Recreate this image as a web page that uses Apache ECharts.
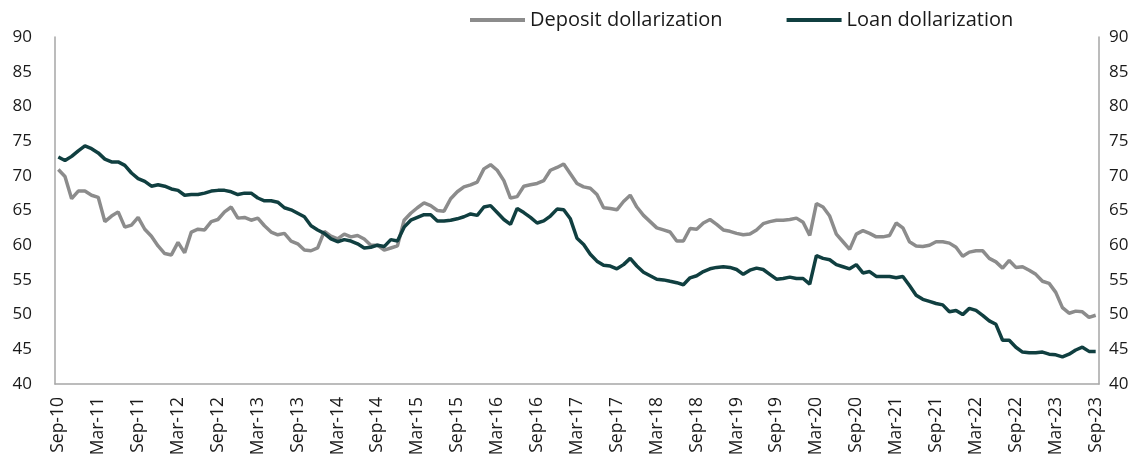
<!DOCTYPE html>
<html>
<head>
<meta charset="utf-8">
<script src="https://cdn.jsdelivr.net/npm/echarts@6/dist/echarts.min.js"></script>
<style>
html,body{margin:0;padding:0;background:#fff;}
#chart{width:1148px;height:462px;}
</style>
</head>
<body>
<div id="chart"></div>
<script>
// Monthly categories Sep-10 .. Sep-23
var monthNames = ["Jan","Feb","Mar","Apr","May","Jun","Jul","Aug","Sep","Oct","Nov","Dec"];
var startYear = 2010, startMonth = 8, monthCount = 157;
var categories = [];
for (var i = 0; i < monthCount; i++) {
  var m = (startMonth + i) % 12;
  var y = startYear + Math.floor((startMonth + i) / 12);
  categories.push(monthNames[m] + "-" + String(y).slice(2));
}
var tickLabels = ["Sep-10","Mar-11","Sep-11","Mar-12","Sep-12","Mar-13","Sep-13","Mar-14","Sep-14","Mar-15","Sep-15","Mar-16","Sep-16","Mar-17","Sep-17","Mar-18","Sep-18","Mar-19","Sep-19","Mar-20","Sep-20","Mar-21","Sep-21","Mar-22","Sep-22","Mar-23","Sep-23"];

var depositDollarization = [
70.9,69.9,66.7,67.8,67.8,67.2,66.9,63.4,64.2,64.8,
62.6,62.9,64.0,62.3,61.3,59.9,58.8,58.6,60.4,58.9,
61.9,62.3,62.2,63.4,63.7,64.8,65.5,63.9,64.0,63.6,
63.9,62.8,61.9,61.5,61.7,60.6,60.2,59.3,59.2,59.6,
62.0,61.3,60.9,61.6,61.2,61.4,60.9,60.0,60.0,59.3,
59.6,59.9,63.6,64.6,65.4,66.1,65.7,65.0,64.9,66.7,
67.7,68.4,68.7,69.1,71.0,71.6,70.8,69.3,66.8,67.0,
68.5,68.7,68.9,69.3,70.8,71.2,71.7,70.3,68.9,68.4,
68.2,67.3,65.4,65.3,65.1,66.3,67.2,65.5,64.3,63.4,
62.5,62.2,61.9,60.6,60.6,62.4,62.3,63.2,63.7,63.0,
62.2,62.0,61.7,61.5,61.6,62.2,63.1,63.4,63.6,63.6,
63.7,63.9,63.3,61.4,66.0,65.5,64.2,61.6,60.5,59.4,
61.6,62.1,61.7,61.2,61.2,61.4,63.2,62.5,60.5,59.9,
59.8,60.0,60.5,60.5,60.3,59.7,58.4,59.0,59.2,59.2,
58.1,57.6,56.7,57.8,56.8,56.9,56.4,55.8,54.8,54.5,
53.2,51.0,50.2,50.5,50.4,49.6,49.9
];
var loanDollarization = [
72.7,72.2,72.8,73.6,74.3,73.9,73.3,72.4,72.0,72.0,
71.5,70.4,69.6,69.2,68.5,68.7,68.5,68.1,67.9,67.2,
67.3,67.3,67.5,67.8,67.9,67.9,67.7,67.3,67.5,67.5,
66.8,66.4,66.4,66.2,65.4,65.1,64.6,64.1,62.8,62.2,
61.7,60.9,60.5,60.8,60.6,60.2,59.6,59.7,60.0,59.8,
60.8,60.6,62.6,63.6,64.0,64.4,64.4,63.5,63.5,63.6,
63.8,64.1,64.5,64.3,65.5,65.7,64.7,63.7,63.0,65.3,
64.7,64.0,63.2,63.5,64.2,65.2,65.1,63.8,61.0,60.1,
58.7,57.7,57.1,57.0,56.6,57.2,58.1,57.0,56.1,55.6,
55.1,55.0,54.8,54.6,54.3,55.3,55.6,56.2,56.6,56.8,
56.9,56.8,56.5,55.8,56.4,56.7,56.5,55.8,55.1,55.2,
55.4,55.2,55.2,54.4,58.5,58.1,57.9,57.2,56.9,56.6,
57.2,56.0,56.2,55.5,55.5,55.5,55.3,55.5,54.2,52.8,
52.2,51.9,51.6,51.4,50.4,50.6,50.0,50.9,50.6,49.9,
49.1,48.6,46.3,46.3,45.3,44.6,44.5,44.5,44.6,44.3,
44.2,43.9,44.3,44.9,45.3,44.7,44.7
];

var FONT = "'Open Sans', 'Noto Sans', sans-serif";
var chart = echarts.init(document.getElementById('chart'), null, {renderer: 'canvas'});
var axisLineStyle = {color: '#a6a6a6', width: 1.5};
var yCommon = {
  type: 'value', min: 40, max: 90, interval: 5,
  splitLine: {show: false},
  axisTick: {show: false},
  axisLine: {show: true, lineStyle: axisLineStyle}
};
chart.setOption({
  animation: false,
  backgroundColor: '#ffffff',
  textStyle: {fontFamily: FONT},
  legend: {
    top: 5, left: 465,
    icon: 'rect',
    itemWidth: 55, itemHeight: 4, itemGap: 64,
    textStyle: {fontFamily: FONT, fontSize: 20, color: '#1a1a1a', padding: [0, 0, 0, 0]},
    data: ['Deposit dollarization', 'Loan dollarization']
  },
  grid: {left: 55, right: 49, top: 37, bottom: 78, containLabel: false},
  xAxis: {
    type: 'category', data: categories, boundaryGap: true,
    axisLine: {show: true, lineStyle: axisLineStyle},
    axisTick: {show: false},
    axisLabel: {
      rotate: 90, interval: 5, margin: 13,
      fontFamily: FONT, fontSize: 17.5, color: '#1a1a1a',
      formatter: function (v) { return tickLabels.indexOf(v) >= 0 ? v : ''; }
    }
  },
  yAxis: [
    Object.assign({}, yCommon, {position: 'left',
      axisLabel: {margin: 23, fontFamily: FONT, fontSize: 17, color: '#1a1a1a'}}),
    Object.assign({}, yCommon, {position: 'right',
      axisLabel: {margin: 10, fontFamily: FONT, fontSize: 17, color: '#1a1a1a'}})
  ],
  series: [
    {name: 'Deposit dollarization', type: 'line', data: depositDollarization,
     yAxisIndex: 0, symbol: 'none', showSymbol: false,
     lineStyle: {color: '#8c8c8c', width: 3.5}, itemStyle: {color: '#8c8c8c'}},
    {name: 'Loan dollarization', type: 'line', data: loanDollarization,
     yAxisIndex: 0, symbol: 'none', showSymbol: false,
     lineStyle: {color: '#103f40', width: 3.5}, itemStyle: {color: '#103f40'}}
  ]
});
</script>
</body>
</html>
